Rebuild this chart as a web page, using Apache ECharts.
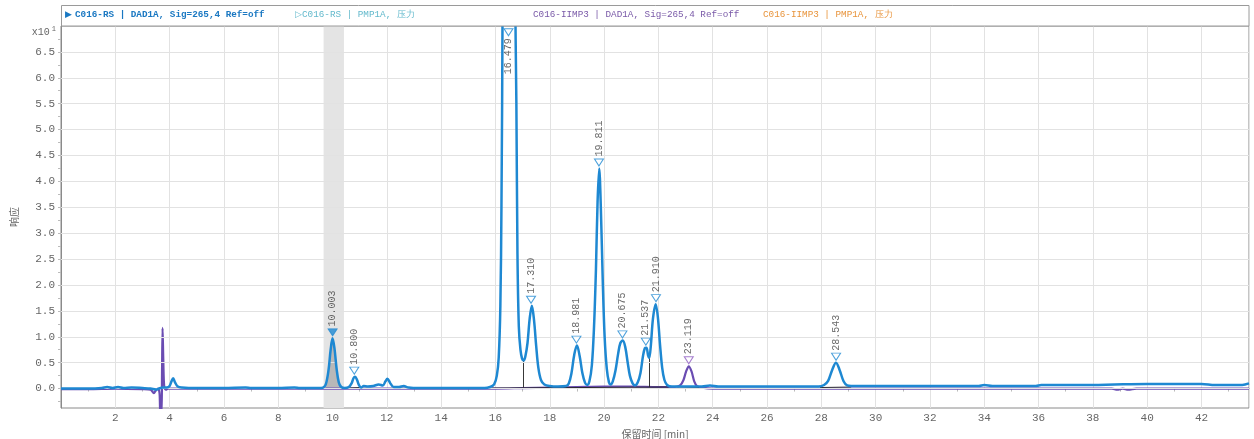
<!DOCTYPE html>
<html><head><meta charset="utf-8">
<script src="https://cdn.jsdelivr.net/npm/echarts@6/dist/echarts.min.js"></script>
<style>html,body{margin:0;padding:0;background:#fff}#c{width:1254px;height:439px}</style>
</head><body><div id="c"></div>
<script>
// ---- tick labels ----
const xTickValues = [2,4,6,8,10,12,14,16,18,20,22,24,26,28,30,32,34,36,38,40,42];
const yLabelValues = [0,0.5,1,1.5,2,2.5,3,3.5,4,4.5,5,5.5,6,6.5];
const yTickValues = [-0.25,0,0.25,0.5,0.75,1,1.25,1.5,1.75,2,2.25,2.5,2.75,3,3.25,3.5,3.75,4,4.25,4.5,4.75,5,5.25,5.5,5.75,6,6.25,6.5,6.75];

// ---- legend entries ----
const legendNames = ['C016-RS | DAD1A, Sig=265,4 Ref=off','C016-RS | PMP1A, 压力','C016-IIMP3 | DAD1A, Sig=265,4 Ref=off','C016-IIMP3 | PMP1A, 压力'];

// ---- C016-RS DAD1A trace (x: min, y: response x10^1) ----
const rsTrace = [[0,0.00],[0.5,0.00],[1.0,0.00],[1.5,0.01],[1.7,0.03],[1.9,0.01],[2.1,0.03],[2.3,0.01],[2.6,0.02],[3.0,0.01],[3.3,0.0],[3.5,-0.02],[3.6,0.0],[3.75,0.02],[3.9,0.02],[4.0,0.05],[4.07,0.14],[4.13,0.2],[4.2,0.12],[4.3,0.04],[4.45,0.02],[5,0.01],[6,0.01],[6.8,0.02],[7,0.01],[8,0.01],[8.6,0.02],[8.8,0.01],[9.5,0.01],[9.65,0.02],[9.75,0.08],[9.85,0.35],[9.93,0.75],[10.0,0.97],[10.07,0.78],[10.15,0.38],[10.23,0.12],[10.32,0.03],[10.45,0.01],[10.6,0.03],[10.7,0.1],[10.77,0.2],[10.83,0.23],[10.9,0.17],[10.97,0.07],[11.05,0.02],[11.15,0.05],[11.3,0.04],[11.5,0.05],[11.7,0.08],[11.85,0.06],[11.95,0.14],[12.02,0.19],[12.12,0.11],[12.25,0.03],[12.45,0.03],[12.62,0.05],[12.8,0.02],[13.2,0.01],[14,0.01],[15,0.01],[15.6,0.01],[15.8,0.03],[15.95,0.08],[16.05,0.25],[16.12,0.6],[16.18,1.6],[16.22,3.5],[16.26,7.2],[16.32,18],[16.4,42],[16.48,60],[16.56,42],[16.64,18],[16.72,8],[16.77,5.5],[16.81,2.6],[16.86,1.2],[16.92,0.75],[16.98,0.58],[17.04,0.54],[17.1,0.62],[17.18,0.88],[17.26,1.35],[17.34,1.6],[17.42,1.32],[17.5,0.82],[17.58,0.4],[17.68,0.16],[17.8,0.08],[18.0,0.05],[18.3,0.04],[18.6,0.05],[18.7,0.1],[18.8,0.3],[18.9,0.65],[19.0,0.83],[19.1,0.63],[19.2,0.3],[19.3,0.11],[19.38,0.07],[19.46,0.14],[19.55,0.45],[19.63,1.2],[19.7,2.3],[19.76,3.6],[19.82,4.25],[19.88,3.5],[19.95,2.1],[20.02,1.0],[20.1,0.38],[20.18,0.12],[20.24,0.08],[20.32,0.14],[20.42,0.35],[20.52,0.68],[20.6,0.88],[20.69,0.93],[20.78,0.8],[20.87,0.5],[20.95,0.25],[21.05,0.1],[21.14,0.06],[21.24,0.12],[21.34,0.3],[21.43,0.62],[21.5,0.78],[21.56,0.79],[21.62,0.64],[21.66,0.59],[21.72,0.82],[21.8,1.35],[21.9,1.63],[21.98,1.38],[22.06,0.85],[22.14,0.4],[22.22,0.17],[22.32,0.07],[22.5,0.04],[23.0,0.04],[23.6,0.04],[23.9,0.06],[24.2,0.04],[25,0.04],[26,0.04],[27,0.04],[27.9,0.04],[28.1,0.07],[28.25,0.15],[28.4,0.36],[28.54,0.5],[28.68,0.35],[28.82,0.14],[28.95,0.06],[29.1,0.05],[30,0.05],[32,0.05],[33.8,0.05],[34.0,0.07],[34.3,0.05],[35.9,0.05],[36.1,0.07],[38,0.07],[38.8,0.08],[40,0.09],[42,0.09],[42.5,0.07],[43.5,0.07],[43.75,0.1]];

// ---- C016-IIMP3 DAD1A trace ----
const iimpTrace = [[0,-0.01],[1,-0.01],[2,0.0],[3,-0.01],[3.3,-0.02],[3.42,-0.09],[3.5,-0.03],[3.58,0.0],[3.63,-0.1],[3.66,-0.5],[3.7,-0.5],[3.72,0.3],[3.74,1.17],[3.77,0.5],[3.8,0.05],[3.86,-0.02],[3.95,0.0],[5,0.0],[8,0.0],[10,0.0],[12,0.0],[14,0.0],[16,0.0],[17,0.01],[18,0.02],[19,0.03],[20,0.04],[21,0.04],[22,0.03],[22.6,0.03],[22.8,0.06],[22.92,0.16],[23.02,0.33],[23.12,0.43],[23.22,0.33],[23.32,0.14],[23.42,0.05],[23.6,0.02],[24,0.0],[28,0.0],[30,0.0],[34,0.0],[38.7,0.0],[38.9,-0.02],[39.1,0.0],[39.3,-0.02],[39.6,0.0],[43.75,0.0]];

// ---- integration baselines / drop lines ----
const integrationSegments = [
  [[9.68,0.01],[10.42,0.01]],
  [[10.55,0.01],[11.05,0.02]],
  [[15.85,0.01],[22.4,0.03]],
  [[17.04,0.02],[17.04,0.54]],
  [[21.66,0.03],[21.66,0.59]],
  [[22.7,0.01],[23.5,0.02]],
  [[27.95,0.02],[29.1,0.03]]
];

// ---- peak annotations ----
const peakLabels = ['10.003','10.800','16.479','17.310','18.981','19.811','20.675','21.537','21.910','23.119','28.543'];
const peakHeights = [0.97,0.23,6.88,1.6,0.83,4.25,0.93,0.79,1.63,0.43,0.5];
const peakTrace = ['rs','rs','rs','rs','rs','rs','rs','rs','rs','iimp','rs'];
const selectedPeak = '10.003';
const offScalePeak = '16.479';

// ---- highlighted window ----
const bandRange = [9.67, 10.42];

const BLUE = '#1e88d2', PURPLE = '#6a4cb2', GRID = '#e2e2e2';

const fillData = rsTrace.filter(p => p[0] >= bandRange[0] && p[0] <= bandRange[1]);

const markerData = peakLabels.map((lab, i) => {
  const x = parseFloat(lab);
  const col = peakTrace[i] === 'iimp' ? '#8e5cc2' : BLUE;
  const sel = lab === selectedPeak;
  const off = lab === offScalePeak;
  return {
    value: [x, peakHeights[i]],
    symbolOffset: off ? [0, 0] : [0, -6],
    itemStyle: { color: sel ? col : '#fff', borderColor: col, borderWidth: 1 },
    label: off ? { position: 'bottom', align: 'right', distance: 2 } : {}
  };
});

const chart = echarts.init(document.getElementById('c'), null, { renderer: 'canvas' });
const axisFont = 'Liberation Mono, DejaVu Sans Mono, monospace';

chart.setOption({
  animation: false,
  backgroundColor: '#fff',
  grid: { left: 61, right: 5, top: 26, bottom: 31, show: true, borderColor: '#8a8a8a', borderWidth: 1, containLabel: false, outerBoundsMode: 'none' },
  xAxis: {
    type: 'value', min: 0, max: 43.75, interval: 2,
    name: '保留时间 [min]', nameLocation: 'middle', nameGap: 20,
    nameTextStyle: { color: '#666', fontSize: 10, fontFamily: 'Noto Sans CJK SC' },
    axisLine: { show: true, lineStyle: { color: '#8a8a8a' } },
    axisTick: { show: false },
    minorTick: { show: true, splitNumber: 2, length: 3, lineStyle: { color: '#bbb' } },
    axisLabel: { customValues: xTickValues, color: '#666', fontSize: 11, fontFamily: axisFont, margin: 5 },
    splitLine: { show: true, lineStyle: { color: GRID, width: 1 } }
  },
  yAxis: {
    type: 'value', min: -0.375, max: 7, interval: 0.125,
    name: '响应', nameLocation: 'middle', nameGap: 42, nameRotate: 90,
    nameTextStyle: { color: '#666', fontSize: 10, fontFamily: 'Noto Sans CJK SC' },
    axisLine: { show: true, lineStyle: { color: '#8a8a8a' } },
    axisTick: { show: true, customValues: yTickValues, length: 3, lineStyle: { color: '#bbb' } },
    axisLabel: {
      customValues: yLabelValues, color: '#666', fontSize: 11, fontFamily: axisFont, margin: 6,
      formatter: v => (Math.abs(v * 2 - Math.round(v * 2)) < 1e-6 && v >= 0 && v <= 6.5) ? v.toFixed(1) : ''
    },
    splitLine: { show: false }
  },
  graphic: [
    { type: 'rect', shape: { x: 61.5, y: 5.5, width: 1187.5, height: 20.5 }, style: { fill: '#fff', stroke: '#9a9a9a', lineWidth: 1 }, z: 10 },
    { type: 'text', x: 65, y: 15, z: 11, style: { text: '▶', fill: '#1a78c2', font: '9px DejaVu Sans', verticalAlign: 'middle' } },
    { type: 'text', x: 75, y: 15, z: 11, style: { text: legendNames[0], fill: '#1a78c2', font: 'bold 9.3px Liberation Mono', verticalAlign: 'middle' } },
    { type: 'text', x: 295, y: 15, z: 11, style: { text: '▷' + legendNames[1], fill: '#63b9cc', font: '9.3px Liberation Mono', verticalAlign: 'middle' } },
    { type: 'text', x: 533, y: 15, z: 11, style: { text: legendNames[2], fill: '#7a5aa8', font: '9.3px Liberation Mono', verticalAlign: 'middle' } },
    { type: 'text', x: 763, y: 15, z: 11, style: { text: legendNames[3], fill: '#e8943c', font: '9.3px Liberation Mono', verticalAlign: 'middle' } },
    { type: 'text', x: 56, y: 32, z: 11, style: { text: '{a|x10}{b|1}', align: 'right', verticalAlign: 'middle',
        rich: { a: { fontSize: 10, fill: '#666', fontFamily: axisFont }, b: { fontSize: 7, fill: '#666', fontFamily: axisFont, verticalAlign: 'top', padding: [0,0,6,2] } } } }
  ],
  series: [
    {
      name: 'band', type: 'line', data: [], silent: true, z: 1,
      markArea: { silent: true, itemStyle: { color: '#e4e4e4' }, data: [[{ xAxis: bandRange[0] }, { xAxis: bandRange[1] }]] },
      markLine: { silent: true, symbol: 'none', label: { show: false },
        lineStyle: { color: GRID, width: 1, type: 'solid' },
        data: yLabelValues.map(v => ({ yAxis: v })) }
    },
    {
      name: 'fill', type: 'line', data: fillData, smooth: 0.3, symbol: 'none', silent: true, z: 2,
      lineStyle: { width: 0 }, areaStyle: { color: '#b8b8b8', origin: 0, opacity: 1 }
    },
    {
      name: legendNames[2], type: 'line', data: iimpTrace, smooth: 0.3, symbol: 'none', z: 3,
      lineStyle: { color: PURPLE, width: 2.2 }
    },
    {
      name: 'integration', type: 'lines', coordinateSystem: 'cartesian2d', z: 4, silent: true,
      lineStyle: { color: '#222', width: 1, opacity: 0.9 },
      data: integrationSegments.map(s => ({ coords: s }))
    },
    {
      name: legendNames[0], type: 'line', data: rsTrace, smooth: 0.35, symbol: 'none', z: 5,
      lineStyle: { color: BLUE, width: 2.5 }
    },
    {
      name: 'peaks', type: 'scatter', z: 6, silent: true,
      symbol: 'triangle', symbolRotate: 180, symbolSize: [9, 7],
      data: markerData,
      label: {
        show: true, position: 'top', rotate: 90, align: 'left', verticalAlign: 'middle', distance: 2,
        color: '#444', fontSize: 10, fontFamily: axisFont,
        formatter: p => peakLabels[p.dataIndex]
      }
    }
  ]
});
</script></body></html>
